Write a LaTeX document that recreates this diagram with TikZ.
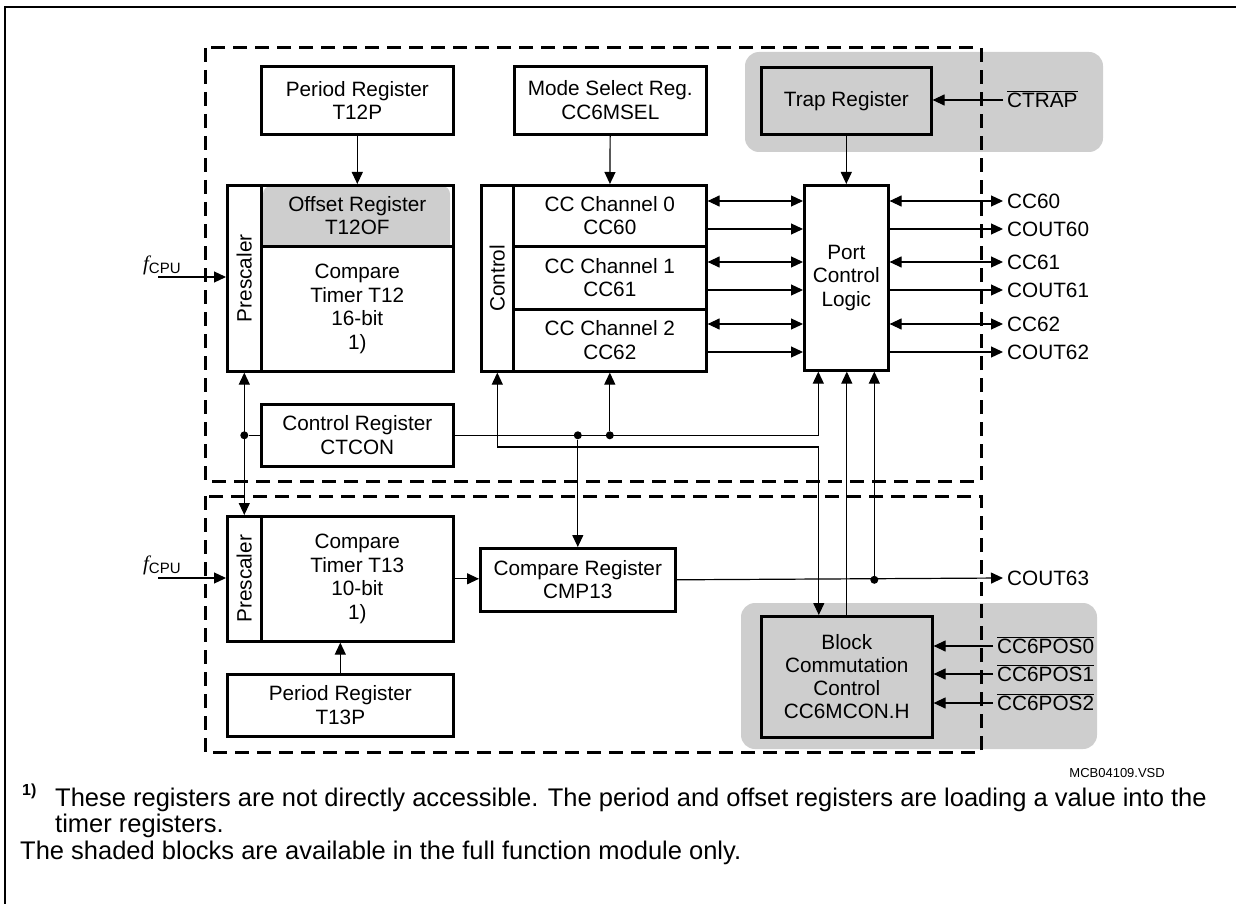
\documentclass[tikz,border=0pt]{standalone}
\usepackage{fontspec}
\setmainfont{Liberation Sans}
\newfontfamily\timesfont{Liberation Serif}
\usetikzlibrary{arrows.meta,positioning,calc}
\definecolor{shadegray}{RGB}{206,206,206}

\newcommand{\fcpu}{{\timesfont\itshape f}{\fontsize{15}{15}\selectfont\raisebox{-3pt}{CPU}}}
\newcommand{\negsig}[1]{\vphantom{C}\smash{$\overline{\mbox{#1}}$}}

\begin{document}
\begin{tikzpicture}[
    x=1pt, y=-1pt,
    >={Triangle[length=12pt,width=11pt]},
    font=\fontsize{20.75}{23.5}\selectfont,
    regbox/.style={draw, line width=2.6pt, align=center, inner sep=0pt, anchor=north west},
    sig/.style={line width=1.2pt},
    arr/.style={sig, ->},
    darr/.style={sig, <->},
    joint/.style={circle, fill, inner sep=0pt, minimum size=8pt},
    pinlab/.style={anchor=west, inner sep=4pt},
    group/.style={line width=3pt, dash pattern=on 14pt off 8pt},
    shaded/.style={fill=shadegray, rounded corners=14pt},
    note/.style={anchor=base west, inner sep=0pt, font=\fontsize{25.5}{26}\selectfont}
]
\useasboundingbox (0,0) rectangle (1236,904);

% page frame
\draw[line width=2pt] (5,904) -- (5,7) -- (1236,7);

% shaded areas (full function module only)
\fill[shaded] (745,52) rectangle (1103,152);
\fill[shaded] (741,603) rectangle (1097,749);
\begin{scope}
  \clip (260,184) rectangle (452,245);
  \fill[shadegray, rounded corners=8pt] (263,186) rectangle (450,270);
\end{scope}

% T12 and T13 groups
\draw[group] (205,48) rectangle (981,481);
\draw[group] (205,496) rectangle (981,752);

% T12 part
\node[regbox, minimum width=192pt, minimum height=68pt] (t12p) at (260,65) {Period Register\\T12P};
\node[regbox, minimum width=34pt, minimum height=186pt] (pre12) at (226,184) {};
\node[rotate=90] at (pre12) {Prescaler};
\node[regbox, minimum width=192pt, minimum height=61pt] (of12) at (260,184) {Offset Register\\T12OF};
\node[regbox, minimum width=192pt, minimum height=125pt] (tim12) at (260,245) {Compare\\Timer T12\\16-bit\\1)};

\node[regbox, minimum width=192pt, minimum height=68pt] (msel) at (513,65) {Mode Select Reg.\\CC6MSEL};
\node[regbox, minimum width=32pt, minimum height=186pt] (ctl) at (480,184) {};
\node[rotate=90] at (ctl) {Control};
\node[regbox, minimum width=193pt, minimum height=61pt] (ch0) at (512,184) {CC Channel 0\\CC60};
\node[regbox, minimum width=193pt, minimum height=63pt] (ch1) at (512,245) {CC Channel 1\\CC61};
\node[regbox, minimum width=193pt, minimum height=62pt] (ch2) at (512,308) {CC Channel 2\\CC62};

\node[regbox, minimum width=170pt, minimum height=67pt] (trap) at (760,66) {Trap Register};
\node[regbox, minimum width=84pt, minimum height=185pt] (port) at (803,184) {Port\\Control\\Logic};

\node[regbox, minimum width=192pt, minimum height=62pt] (ctcon) at (260,403) {Control Register\\CTCON};

% T13 part
\node[regbox, minimum width=34pt, minimum height=125pt] (pre13) at (226,515) {};
\node[rotate=90] at (pre13) {Prescaler};
\node[regbox, minimum width=192pt, minimum height=125pt] (tim13) at (260,515) {Compare\\Timer T13\\10-bit\\1)};
\node[regbox, minimum width=226pt, minimum height=62pt] (t13p) at (226,673) {Period Register\\T13P};
\node[regbox, minimum width=195pt, minimum height=63pt] (cmp13) at (479,547) {Compare Register\\CMP13};
\node[regbox, minimum width=171pt, minimum height=121pt, font=\fontsize{20.75}{23}\selectfont] (bcc) at (760,615) {Block\\Commutation\\Control\\CC6MCON.H};

% clock inputs
\node[anchor=base west, inner sep=0pt] (lfa) at (143,270) {\fcpu};
\node[anchor=base west, inner sep=0pt] (lfb) at (143,570) {\fcpu};
\coordinate (fina) at (158,277);
\coordinate (finb) at (158,578);
\draw[arr] (fina) -- (fina -| pre12.west);
\draw[arr] (finb) -- (finb -| pre13.west);

% pins
\node[pinlab] (ctrap) at (1003,100) {\negsig{CTRAP}};
\node[pinlab] (pcc60) at (1003,201) {CC60};
\node[pinlab] (pco60) at (1003,229) {COUT60};
\node[pinlab] (pcc61) at (1003,262) {CC61};
\node[pinlab] (pco61) at (1003,290) {COUT61};
\node[pinlab] (pcc62) at (1003,324) {CC62};
\node[pinlab] (pco62) at (1003,352) {COUT62};
\node[pinlab] (pco63) at (1003,578) {COUT63};
\node[pinlab] (pos0) at (993,646) {\negsig{CC6POS0}};
\node[pinlab] (pos1) at (993,674) {\negsig{CC6POS1}};
\node[pinlab] (pos2) at (993,703) {\negsig{CC6POS2}};

% register loads
\draw[arr] (t12p) -- (of12);
\draw[arr] (msel) -- (ch0);
\draw[arr] (trap) -- (port);
\draw[arr] (ctrap.west) -- (ctrap.west -| trap.east);
\draw[arr] (t13p) -- (t13p.north |- tim13.south);

% channels to port logic
\draw[darr] (ch0.east |- pcc60) -- (port.west |- pcc60);
\draw[arr] (ch0.east |- pco60) -- (port.west |- pco60);
\draw[darr] (ch1.east |- pcc61) -- (port.west |- pcc61);
\draw[arr] (ch1.east |- pco61) -- (port.west |- pco61);
\draw[darr] (ch2.east |- pcc62) -- (port.west |- pcc62);
\draw[arr] (ch2.east |- pco62) -- (port.west |- pco62);

\draw[darr] (port.east |- pcc60) -- (pcc60.west);
\draw[arr] (port.east |- pco60) -- (pco60.west);
\draw[darr] (port.east |- pcc61) -- (pcc61.west);
\draw[arr] (port.east |- pco61) -- (pco61.west);
\draw[darr] (port.east |- pcc62) -- (pcc62.west);
\draw[arr] (port.east |- pco62) -- (pco62.west);

% control bus
\coordinate (p1) at ([xshift=-28pt]port.south);
\coordinate (p3) at ([xshift=28pt]port.south);
\coordinate (ctlbus) at (0,447);
\node[joint] (j1) at (pre12.south |- ctcon.west) {};
\node[joint] (j2) at (cmp13.north |- ctcon.east) {};
\node[joint] (j3) at (ch2.south |- ctcon.east) {};
\draw[sig] (ctcon.west) -- (j1);
\draw[darr] (pre12.south) -- (pre13.north);
\draw[arr] (ctcon.east) -| (p1);
\draw[arr] (j3) -- (ch2.south);
\draw[arr] (j2) -- (cmp13.north);
\draw[darr] (ctl.south) -- (ctl.south |- ctlbus) -| ([xshift=-28pt]bcc.north);
\draw[arr] (bcc.north) -- (bcc.north |- port.south);

% T13 compare output
\draw[arr] (tim13.east) -- (tim13.east -| cmp13.west);
\draw[arr] (cmp13.east) -- (pco63.west);
\node[joint] (j4) at (p3 |- cmp13.east) {};
\draw[arr] (j4) -- (p3);

% hall inputs
\draw[arr] (pos0.west) -- (pos0.west -| bcc.east);
\draw[arr] (pos1.west) -- (pos1.west -| bcc.east);
\draw[arr] (pos2.west) -- (pos2.west -| bcc.east);

% notes
\node[anchor=base east, inner sep=0pt, font=\fontsize{13}{13}\selectfont] (docid) at (1165,777) {MCB04109.VSD};
\node[anchor=base west, inner sep=0pt, font=\fontsize{16}{16}\selectfont\bfseries] (fnmark) at (22,795) {1)};
\node[note] (fn1) at (55,806) {These registers are not directly accessible. The period and offset registers are loading a value into the};
\node[note] (fn2) at (55,832) {timer registers.};
\node[note] (fn3) at (20,859) {The shaded blocks are available in the full function module only.};
\end{tikzpicture}
\end{document}
